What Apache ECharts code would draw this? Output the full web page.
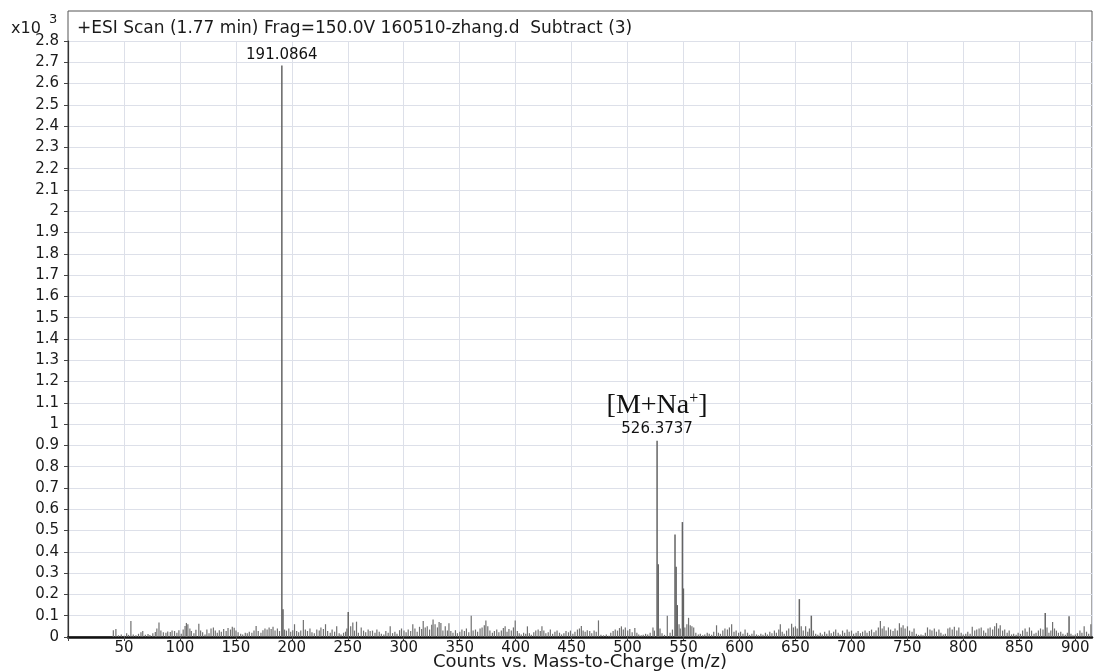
<!DOCTYPE html>
<html>
<head>
<meta charset="utf-8">
<script src="https://cdn.jsdelivr.net/npm/echarts@6/dist/echarts.min.js"></script>
<style>
html,body{margin:0;padding:0;background:#fff;}
#chart{width:1094px;height:671px;}
</style>
</head>
<body>
<div id="chart"></div>
<script>
// ---- data (intensities in units of x10^3 counts) ----
var titleText = '+ESI Scan (1.77 min) Frag=150.0V 160510-zhang.d  Subtract (3)';
var xAxisTitle = 'Counts vs. Mass-to-Charge (m/z)';
var xTickStep = 50;
var yTickStep = 0.1;

var majorPeaks = [
  [191.0864, 2.685], [192.1, 0.130], [250.4, 0.118],
  [526.3737, 0.922], [527.4, 0.342],
  [542.4, 0.482], [543.4, 0.330], [544.4, 0.150],
  [549.0, 0.540], [549.9, 0.228],
  [653.5, 0.178], [664.2, 0.100], [873.2, 0.113], [894.5, 0.098]
];

var labeledPeaks = [
  [191.0864, 2.685],
  [526.3737, 0.922]
];
var peakLabels = ['191.0864', '526.3737'];

var noiseLow = [
  [40.5,.032],[42.8,.038],[45.1,.008],[47.6,.012],[50.2,.006],[52.4,.018],[54.1,.010],[56.2,.075],[58.3,.012],[60.7,.008],
  [63.0,.015],[65.2,.022],[66.8,.028],[69.1,.010],[71.5,.014],[73.2,.009],[75.8,.018],[78.0,.024],[79.4,.040],[81.3,.068],
  [83.0,.030],[85.2,.022],[87.5,.020],[89.1,.026],[91.4,.024],[93.0,.030],[95.2,.028],[97.3,.020],[99.1,.032],[101.2,.015],
  [102.9,.035],[104.6,.052],[105.8,.066],[107.1,.060],[108.9,.040],[110.2,.028],[112.5,.018],[114.3,.034],[116.9,.062],[118.5,.030],
  [120.3,.022],[122.4,.012],[124.1,.035],[126.0,.018],[127.8,.040],[129.9,.045],[131.6,.030],[133.4,.020],[135.2,.032],[137.0,.025],
  [139.1,.038],[141.3,.028],[143.0,.042],[145.2,.035],[146.8,.048],[148.5,.044],[150.1,.030],[152.0,.022],[154.3,.015],[156.1,.012],
  [158.4,.020],[160.2,.018],[162.0,.025],[164.3,.020],[166.2,.030],[168.1,.052],[170.0,.028],[172.4,.020],[174.2,.032],[176.0,.040],
  [177.9,.035],[179.7,.045],[181.5,.038],[183.2,.048],[185.0,.030],[187.1,.040],[189.0,.028],[193.5,.035],[195.2,.030],[197.3,.040],
  [199.0,.025],[200.8,.032],[202.4,.060],[204.3,.028],[206.1,.022],[208.0,.030],[210.3,.080],[212.1,.035],[214.0,.028],[216.2,.040],
  [218.0,.022],[220.1,.018],[222.3,.035],[224.5,.030],[226.0,.045],[228.2,.038],[230.1,.060],[232.0,.028],[234.3,.020],[236.0,.035],
  [238.2,.025],[240.1,.050],[242.3,.018],[244.0,.012],[246.2,.020],[248.0,.025],[249.2,.040],[252.6,.050],[254.5,.068],[256.0,.030],
  [257.8,.072],[259.5,.020],[262.0,.045],[264.1,.030],[266.0,.022],[268.2,.035],[270.0,.028],[272.1,.030],[274.3,.020],[276.0,.035],
  [278.1,.025],[280.0,.015],[282.2,.012],[284.0,.028],[286.1,.020],[287.9,.050],[290.0,.018],[292.1,.025],[294.0,.015],[296.3,.032],
  [298.0,.040]
];

var noiseMid = [
  [300.2,.030],[302.1,.022],[304.0,.035],[306.2,.028],[308.1,.060],[310.0,.040],[312.0,.025],[314.1,.048],[316.0,.038],[317.4,.075],
  [319.2,.045],[321.0,.050],[323.1,.035],[325.0,.058],[326.2,.082],[328.0,.060],[330.1,.045],[331.6,.070],[333.2,.066],[335.0,.030],
  [337.1,.050],[339.0,.030],[340.4,.065],[342.1,.028],[344.0,.020],[346.2,.032],[348.0,.018],[350.1,.025],[352.0,.035],[354.2,.028],
  [356.0,.040],[358.1,.022],[360.3,.100],[362.0,.030],[364.1,.035],[366.0,.025],[368.2,.040],[370.0,.045],[372.0,.055],[373.4,.078],
  [375.1,.050],[377.0,.030],[379.2,.020],[381.0,.028],[383.1,.035],[385.0,.022],[387.2,.030],[389.0,.042],[390.6,.050],[392.3,.025],
  [394.0,.038],[396.1,.030],[398.0,.045],[399.6,.078],[401.5,.028],[403.2,.018],[405.0,.012],[407.1,.020],[409.0,.015],[410.5,.050],
  [412.3,.018],[414.0,.010],[416.2,.022],[418.0,.030],[420.1,.035],[422.0,.028],[423.5,.050],[425.2,.030],[427.0,.018],[429.1,.022],
  [431.0,.035],[433.0,.015],[435.1,.025],[437.0,.030],[439.2,.020],[441.0,.012],[443.1,.018],[445.0,.028],[447.2,.022],[449.0,.030],
  [451.1,.015],[453.0,.025],[455.2,.035],[457.0,.040],[458.7,.052],[460.3,.030],[462.1,.025],[464.0,.032],[466.2,.028],[468.0,.018],
  [470.1,.030],[472.0,.025],[474.0,.078],[476.2,.010],[478.5,.008],[481.0,.012],[483.2,.006],[485.0,.020],[487.1,.028],[489.0,.035],
  [491.0,.030],[492.8,.042],[494.5,.050],[496.2,.035],[498.0,.045],[500.1,.030],[502.0,.038],[504.1,.022],[506.5,.042],[508.3,.020],
  [510.0,.012],[512.2,.008],[514.0,.010],[516.1,.015],[518.0,.012],[520.2,.020],[522.7,.045],[524.0,.030],[529.0,.040],[530.8,.018],
  [533.0,.010],[535.5,.100],[538.0,.020],[540.1,.035],[546.0,.060],[547.1,.040],[551.2,.045],[553.0,.060],[554.5,.090],[556.0,.055],
  [557.5,.050],[559.1,.045],[561.0,.020],[563.2,.012],[565.0,.015],[567.1,.008],[569.0,.012],[571.2,.020],[573.0,.015],[575.1,.010],
  [577.0,.025],[579.5,.055],[581.2,.020],[583.0,.015],[585.1,.030],[587.0,.040],[589.2,.035],[591.0,.045],[593.0,.060],[595.1,.025],
  [597.0,.030],[599.2,.020]
];

var noiseHigh = [
  [601.0,.025],[603.1,.015],[605.0,.035],[607.2,.020],[609.0,.010],[611.1,.015],[613.0,.030],[615.2,.012],[617.0,.008],[619.1,.015],
  [621.0,.010],[623.2,.020],[625.0,.012],[627.1,.025],[629.0,.018],[631.2,.030],[633.0,.020],[635.1,.035],[636.5,.060],[638.2,.025],
  [640.0,.015],[642.1,.030],[644.0,.040],[646.6,.062],[648.2,.045],[650.0,.050],[651.6,.040],[655.2,.050],[657.0,.030],[659.1,.050],
  [661.0,.025],[662.5,.040],[666.0,.030],[668.1,.015],[670.0,.010],[672.2,.020],[674.0,.012],[676.1,.025],[678.0,.015],[680.2,.030],
  [682.0,.018],[684.1,.025],[686.0,.035],[688.2,.020],[690.0,.012],[692.1,.030],[694.0,.020],[696.2,.035],[698.0,.025],[700.1,.030],
  [702.0,.015],[704.2,.020],[706.0,.028],[708.1,.018],[710.0,.025],[712.2,.030],[714.0,.020],[716.1,.028],[718.0,.035],[720.2,.022],
  [722.0,.030],[724.1,.045],[725.9,.075],[727.5,.040],[729.2,.050],[731.0,.030],[733.1,.045],[735.0,.035],[737.2,.028],[739.0,.040],
  [741.1,.030],[742.9,.065],[744.5,.045],[746.2,.055],[748.0,.040],[750.1,.050],[752.0,.030],[754.2,.025],[756.0,.040],[758.1,.015],
  [760.0,.010],[762.2,.012],[764.0,.008],[766.1,.020],[768.0,.045],[770.2,.035],[772.0,.030],[774.1,.040],[776.0,.025],[778.2,.035],
  [780.0,.020],[782.1,.012],[784.0,.015],[786.2,.040],[788.0,.045],[790.1,.035],[792.0,.048],[794.2,.030],[796.0,.045],[798.1,.020],
  [800.0,.012],[802.2,.015],[804.0,.025],[806.1,.015],[808.0,.048],[810.2,.030],[812.0,.035],[814.1,.040],[816.0,.045],[818.2,.030],
  [820.0,.020],[822.1,.040],[824.0,.045],[826.2,.035],[828.0,.050],[829.7,.065],[831.5,.040],[833.0,.055],[835.1,.030],[837.0,.035],
  [839.2,.020],[841.0,.030],[843.1,.012],[845.0,.015],[847.2,.010],[849.0,.020],[851.1,.015],[853.0,.030],[855.2,.040],[857.0,.025],
  [859.1,.045],[861.0,.030],[863.2,.015],[865.0,.020],[867.1,.030],[869.0,.040],[871.2,.035],[874.8,.045],[876.5,.020],[878.2,.030],
  [879.8,.070],[881.5,.040],[883.2,.030],[885.0,.020],[887.1,.025],[889.0,.015],[891.2,.010],[893.0,.020],[896.2,.015],[898.0,.008],
  [900.1,.012],[902.0,.018],[904.2,.030],[906.0,.020],[908.0,.050],[910.1,.025],[912.0,.015],[914.0,.060]
];

// ---- chart ----
var FONT = 'DejaVu Sans';
var chart = echarts.init(document.getElementById('chart'), null, {renderer: 'canvas'});

function stickRenderer(color, width) {
  return function (params, api) {
    var top = api.coord([api.value(0), api.value(1)]);
    var base = api.coord([api.value(0), 0]);
    return {
      type: 'line',
      shape: {x1: top[0], y1: top[1], x2: base[0], y2: base[1]},
      style: {stroke: color, lineWidth: width}
    };
  };
}

var noiseAll = noiseLow.concat(noiseMid, noiseHigh);

var option = {
  animation: false,
  backgroundColor: '#ffffff',
  title: {
    text: titleText,
    left: 72, top: 15,
    textStyle: {fontFamily: FONT, fontSize: 17, fontWeight: 'normal', color: '#1a1a1a'}
  },
  graphic: [
    {type: 'text', left: 11, top: 21, style: {text: 'x10', font: '16px "DejaVu Sans"', fill: '#1a1a1a'}},
    {type: 'text', left: 49, top: 13, style: {text: '3', font: '13px "DejaVu Sans"', fill: '#1a1a1a'}}
  ],
  grid: [
    {left: 68, right: 2, top: 41, bottom: 34, containLabel: false, outerBoundsMode: 'none'},
    {left: 68, right: 2, top: 11, bottom: 34, outerBoundsMode: 'none',
     show: true, borderColor: '#555', borderWidth: 1, backgroundColor: 'transparent'}
  ],
  xAxis: [
    {
      gridIndex: 0, type: 'value', min: 0, max: 915, interval: xTickStep,
      name: xAxisTitle, nameLocation: 'middle', nameGap: 16, nameMoveOverlap: false,
      nameTextStyle: {fontFamily: FONT, fontSize: 18, color: '#1a1a1a'},
      axisLine: {show: true, onZero: false, lineStyle: {color: '#111', width: 2.5}},
      axisTick: {show: true, length: 4, lineStyle: {color: '#444'}},
      axisLabel: {
        margin: 4, fontFamily: FONT, fontSize: 15, color: '#1a1a1a', showMaxLabel: false,
        formatter: function (v) { return (v === 0 || v % xTickStep !== 0) ? '' : String(v); }
      },
      splitLine: {show: true, lineStyle: {color: '#dde0e9', width: 1}}
    },
    {gridIndex: 1, type: 'value', min: 0, max: 1, show: false}
  ],
  yAxis: [
    {
      gridIndex: 0, type: 'value', min: 0, max: 2.8, interval: yTickStep,
      axisLine: {show: true, lineStyle: {color: '#333', width: 1.2}},
      axisTick: {show: true, length: 4, lineStyle: {color: '#444'}},
      axisLabel: {
        margin: 9, fontFamily: FONT, fontSize: 15, color: '#1a1a1a',
        formatter: function (v) { return String(Math.round(v * 10) / 10); }
      },
      splitLine: {show: true, lineStyle: {color: '#dde0e9', width: 1}}
    },
    {gridIndex: 1, type: 'value', min: 0, max: 1, show: false}
  ],
  series: [
    {
      type: 'custom', xAxisIndex: 0, yAxisIndex: 0,
      renderItem: stickRenderer('#707070', 1.2),
      encode: {x: 0, y: 1},
      data: noiseAll, z: 2, silent: true
    },
    {
      type: 'custom', xAxisIndex: 0, yAxisIndex: 0,
      renderItem: stickRenderer('#646464', 1.5),
      encode: {x: 0, y: 1},
      data: majorPeaks, z: 3, silent: true
    },
    {
      type: 'scatter', xAxisIndex: 0, yAxisIndex: 0,
      symbolSize: 0, z: 4, silent: true,
      itemStyle: {opacity: 1},
      data: labeledPeaks.map(function (p, i) {
        if (i === 1) {
          return {
            value: p,
            label: {
              show: true, position: 'top', distance: 3, color: '#111',
              formatter: '{ion|[M+Na}{sup|+}{ion|]}\n{mz|' + peakLabels[i] + '}',
              rich: {
                ion: {fontFamily: 'Liberation Serif', fontSize: 28, color: '#111', lineHeight: 30},
                sup: {fontFamily: 'Liberation Serif', fontSize: 16, color: '#111', verticalAlign: 'top', lineHeight: 30},
                mz: {fontFamily: FONT, fontSize: 15, color: '#111', lineHeight: 17}
              }
            }
          };
        }
        return {
          value: p,
          label: {show: true, position: 'top', distance: 3, formatter: peakLabels[i],
                  fontFamily: FONT, fontSize: 15, color: '#111'}
        };
      })
    }
  ]
};
chart.setOption(option);
</script>
</body>
</html>
